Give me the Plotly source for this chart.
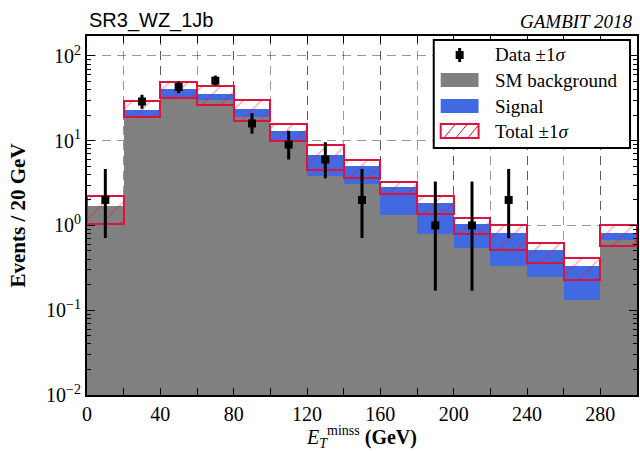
import plotly.graph_objects as go

# ---------------- data ----------------
bin_centers = [10, 30, 50, 70, 90, 110, 130, 150, 170, 190, 210, 230, 250, 270, 290]
bin_width = 20

sm_background = [1.69, 19.0, 31.8, 29.8, 19.0, 9.8, 3.87, 3.1, 1.32, 0.80, 0.536, 0.33, 0.249, 0.132, 0.667]
signal = [0.0, 4.2, 8.8, 5.6, 4.8, 3.1, 2.97, 1.89, 1.53, 1.05, 0.514, 0.49, 0.261, 0.2, 0.138]
total_lo = [1.03, 19.0, 31.8, 26.5, 16.9, 9.8, 4.56, 3.64, 2.32, 1.38, 0.80, 0.51, 0.357, 0.227, 0.57]
total_hi = [2.21, 29.6, 49.9, 43.6, 29.8, 15.7, 8.97, 5.97, 3.24, 2.21, 1.23, 1.01, 0.625, 0.413, 1.01]

data_x = [10, 30, 50, 70, 90, 110, 130, 150, 190, 210, 230]
data_n = [2, 29, 43, 51, 16, 9, 6, 2, 1, 1, 2]
data_err_up = [2.64, 5.8, 6.9, 7.6, 5.1, 4.1, 3.6, 2.64, 2.3, 2.3, 2.64]
data_err_dn = [1.29, 5.2, 6.6, 6.2, 3.9, 3.0, 2.4, 1.29, 0.83, 0.83, 1.29]

x_tickvals = [0, 40, 80, 120, 160, 200, 240, 280]
x_ticktext = ["0", "40", "80", "120", "160", "200", "240", "280"]
y_tickvals = [0.01, 0.1, 1, 10, 100]
y_ticktext = ["10<sup>\u22122</sup>", "10<sup>\u22121</sup>", "10<sup>0</sup>", "10<sup>1</sup>", "10<sup>2</sup>"]
y_minor = [m * 10 ** e for e in range(-2, 3) for m in range(2, 10)]

legend_labels = ["Data \u00b11<i>\u03c3</i>", "SM background", "Signal", "Total \u00b11<i>\u03c3</i>"]

SERIF = "Liberation Serif"
SANS = "Liberation Sans"
GREY = "#808080"
BLUE = "#4169E1"
RED = "#DC143C"
GRID = "rgba(0,0,0,0.4)"

W, H = 640, 451
ML, MR, MT, MB = 87, 1, 36, 56
PW, PH = W - ML - MR, H - MT - MB


def px(x):
    return (x - ML) / PW


def py(y):
    return (H - MB - y) / PH


band_height = [h - l for h, l in zip(total_hi, total_lo)]

fig = go.Figure()

fig.add_trace(go.Bar(
    x=bin_centers, y=sm_background, width=bin_width,
    marker=dict(color=GREY, line=dict(width=0)),
    name="SM background", showlegend=False,
))
fig.add_trace(go.Bar(
    x=bin_centers, y=signal, base=sm_background, width=bin_width,
    marker=dict(color=BLUE, line=dict(width=0)),
    name="Signal", showlegend=False,
))
fig.add_trace(go.Bar(
    x=bin_centers, y=band_height, base=total_lo, width=bin_width,
    marker=dict(
        color="rgba(255,255,255,0)",
        line=dict(color=RED, width=2),
        pattern=dict(shape="/", fgcolor=RED, fgopacity=0.4, bgcolor="rgba(255,255,255,0)",
                     size=13, solidity=0.1, fillmode="replace"),
    ),
    name="Total", showlegend=False,
))
fig.add_trace(go.Scatter(
    x=data_x, y=data_n, mode="markers",
    marker=dict(symbol="square", size=8, color="black"),
    error_y=dict(type="data", symmetric=False, array=data_err_up, arrayminus=data_err_dn,
                 color="black", thickness=3, width=0),
    name="Data", showlegend=False,
))

axis_common = dict(
    showline=True, linecolor="black", linewidth=2, mirror="allticks",
    ticks="inside", tickcolor="black", tickwidth=1,
    showgrid=True, gridcolor=GRID, gridwidth=1, griddash="9px,6px",
    zeroline=False, layer="above traces",
    tickfont=dict(family=SERIF, size=20, color="black"),
)

# ----- manual legend (layout decoration) -----
shapes = []
annotations = []
shapes.append(dict(type="rect", xref="paper", yref="paper",
                   x0=px(435), x1=px(632), y0=py(148), y1=py(40),
                   fillcolor="white", line=dict(color="black", width=2), layer="above"))
rows = [55, 80, 106, 131]
sw_x0, sw_x1 = 442, 480
for i, (label, yc) in enumerate(zip(legend_labels, rows)):
    if i == 0:
        shapes.append(dict(type="line", xref="paper", yref="paper",
                           x0=px(461), x1=px(461), y0=py(yc + 7), y1=py(yc - 7),
                           line=dict(color="black", width=3), layer="above"))
        shapes.append(dict(type="rect", xref="paper", yref="paper",
                           x0=px(457), x1=px(465), y0=py(yc + 4), y1=py(yc - 4),
                           fillcolor="black", line=dict(width=0), layer="above"))
    elif i in (1, 2):
        shapes.append(dict(type="rect", xref="paper", yref="paper",
                           x0=px(sw_x0), x1=px(sw_x1), y0=py(yc + 7), y1=py(yc - 7),
                           fillcolor=GREY if i == 1 else BLUE, line=dict(width=0), layer="above"))
    else:
        for k in range(3):
            xa = sw_x0 + 4 + k * 12
            shapes.append(dict(type="line", xref="paper", yref="paper",
                               x0=px(xa), x1=px(xa + 10), y0=py(yc + 6), y1=py(yc - 6),
                               line=dict(color=RED, width=1), layer="above"))
        shapes.append(dict(type="rect", xref="paper", yref="paper",
                           x0=px(sw_x0), x1=px(sw_x1), y0=py(yc + 7), y1=py(yc - 7),
                           fillcolor="rgba(0,0,0,0)", line=dict(color=RED, width=2), layer="above"))
    annotations.append(dict(text=label, xref="paper", yref="paper", x=px(494), y=py(yc),
                            xanchor="left", yanchor="middle", showarrow=False,
                            font=dict(family=SERIF, size=19, color="black")))

annotations += [
    dict(text="SR3_WZ_1Jb", xref="paper", yref="paper", x=0, y=1, xanchor="left", yanchor="bottom",
         yshift=2, showarrow=False, font=dict(family=SANS, size=20, color="black")),
    dict(text="<i>GAMBIT 2018</i>", xref="paper", yref="paper", x=1, y=1, xanchor="right", yanchor="bottom",
         xshift=-2, yshift=2, showarrow=False, font=dict(family=SERIF, size=19, color="black")),
]

fig.update_layout(
    width=W, height=H,
    margin=dict(l=ML, r=MR, t=MT, b=MB),
    paper_bgcolor="white", plot_bgcolor="white",
    barmode="overlay", bargap=0,
    showlegend=False,
    xaxis=dict(
        range=[0, 300], tickmode="array", tickvals=x_tickvals, ticktext=x_ticktext,
        ticklen=7, **axis_common,
        minor=dict(tick0=0, dtick=20, ticks="inside", ticklen=7, tickcolor="black", tickwidth=1,
                   showgrid=True, gridcolor=GRID, gridwidth=1, griddash="9px,6px"),
        title=dict(text="<i>E</i><sub><i>T</i></sub><sup>minss</sup> <b>(GeV)</b>",
                   font=dict(family=SERIF, size=20, color="black"), standoff=6),
    ),
    yaxis=dict(
        type="log", range=[-2, 2.235], tickmode="array", tickvals=y_tickvals, ticktext=y_ticktext,
        ticklen=8, **axis_common,
        minor=dict(tickvals=y_minor, ticks="inside", ticklen=4, tickcolor="black", tickwidth=1, showgrid=False),
        title=dict(text="<b>Events / 20 GeV</b>", font=dict(family=SERIF, size=21, color="black"), standoff=15),
    ),
    shapes=shapes,
    annotations=annotations,
)

fig.write_html("out.html")
